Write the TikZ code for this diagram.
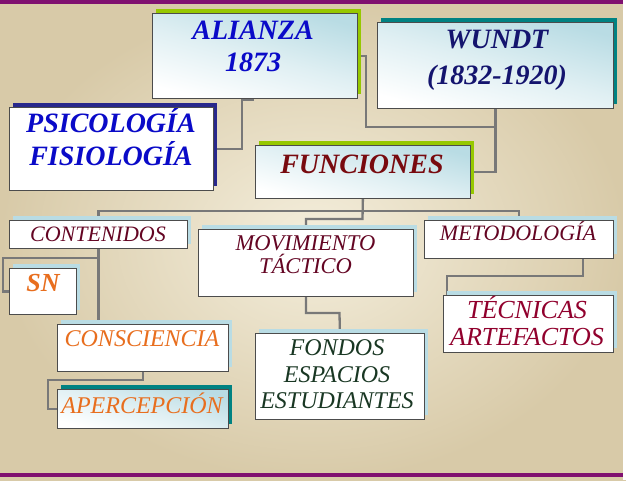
\documentclass[tikz,border=0pt]{standalone}
\usepackage{fontspec}
\setmainfont{Liberation Serif}
\usetikzlibrary{shadows,backgrounds}

\definecolor{bgdark}{RGB}{216,202,168}
\definecolor{bglight}{RGB}{244,238,220}
\definecolor{barpurple}{RGB}{128,16,112}
\definecolor{conngray}{RGB}{120,120,120}
\definecolor{limegreen}{RGB}{150,200,0}
\definecolor{tealsh}{RGB}{0,130,130}
\definecolor{navysh}{RGB}{40,40,140}
\definecolor{lightsh}{RGB}{185,220,228}
\definecolor{gradblue}{RGB}{185,220,228}
\definecolor{textblue}{RGB}{10,10,200}
\definecolor{textnavy}{RGB}{20,20,110}
\definecolor{redfun}{RGB}{120,10,15}
\definecolor{redsmall}{RGB}{100,5,35}
\definecolor{crimson}{RGB}{145,0,45}
\definecolor{orangetxt}{RGB}{232,110,30}
\definecolor{greentxt}{RGB}{25,55,35}

\tikzset{
  box/.style={draw=black!70, line width=0.8pt, fill=white, anchor=north west, inner sep=0pt},
  grad/.style={top color=gradblue, bottom color=white, middle color=gradblue!45!white, shading angle=-15},
  shad/.style={drop shadow={shadow xshift=4pt, shadow yshift=4pt, fill=#1, opacity=1}},
  conn/.style={draw=conngray, line width=2.3pt},
  txt/.style={align=center, inner sep=0pt}
}

\begin{document}
\begin{tikzpicture}[x=1pt,y=-1pt]
\useasboundingbox (0,0) rectangle (626,480);

\node[box, grad, shad=limegreen, minimum width=205pt, minimum height=85pt] (alianza) at (152,13) {};
\node[box, grad, shad=tealsh, minimum width=236pt, minimum height=86pt] (wundt) at (377,22) {};
\node[box, shad=navysh, minimum width=204pt, minimum height=83pt] (psico) at (9,107) {};
\node[box, grad, shad=limegreen, minimum width=215pt, minimum height=53pt] (funciones) at (255,145) {};
\node[box, shad=lightsh, minimum width=178pt, minimum height=28pt] (contenidos) at (9,220) {};
\node[box, shad=lightsh, minimum width=215pt, minimum height=67pt] (movimiento) at (198,229) {};
\node[box, shad=lightsh, minimum width=189pt, minimum height=38pt] (metodologia) at (424,220) {};
\node[box, shad=lightsh, minimum width=67pt, minimum height=46pt] (sn) at (9,268) {};
\node[box, shad=lightsh, minimum width=171pt, minimum height=47pt] (consciencia) at (57,324) {};
\node[box, grad, shad=tealsh, minimum width=171pt, minimum height=39pt] (apercepcion) at (57,389) {};
\node[box, shad=lightsh, minimum width=169pt, minimum height=86pt] (fondos) at (255,333) {};
\node[box, shad=lightsh, minimum width=170pt, minimum height=57pt] (tecnicas) at (443,295) {};

\node[txt, textblue, font=\bfseries\itshape\fontsize{28}{32}\selectfont] (alianzatxt) at (253,46) {ALIANZA\\1873};
\node[txt, textnavy, font=\bfseries\itshape\fontsize{28}{36}\selectfont] (wundttxt) at (497,60) {WUNDT\\(1832-1920)};
\node[txt, textblue, font=\bfseries\itshape\fontsize{28}{33}\selectfont] (psicotxt) at (111,137) {PSICOLOGÍA\\FISIOLOGÍA};
\node[txt, redfun, font=\bfseries\itshape\fontsize{28}{32}\selectfont] (funcionestxt) at (362,164) {FUNCIONES};
\node[txt, redsmall, font=\itshape\fontsize{22}{24}\selectfont] (contenidostxt) at (98,234) {CONTENIDOS};
\node[txt, redsmall, font=\itshape\fontsize{22.5}{23}\selectfont] (movimientotxt) at (305.5,254.5) {MOVIMIENTO\\TÁCTICO};
\node[txt, redsmall, font=\itshape\fontsize{22}{24}\selectfont] (metodologiatxt) at (518,231.5) {METODOLOGÍA};
\node[txt, orangetxt, font=\bfseries\itshape\fontsize{26}{28}\selectfont] (sntxt) at (43,283) {SN};
\node[txt, orangetxt, font=\itshape\fontsize{24}{26}\selectfont] (conscienciatxt) at (142,339) {CONSCIENCIA};
\node[txt, orangetxt, font=\itshape\fontsize{24}{26}\selectfont] (apercepciontxt) at (142,403) {APERCEPCIÓN};
\node[txt, greentxt, font=\itshape\fontsize{24}{26.5}\selectfont] (fondostxt) at (337,374.5) {FONDOS\\ESPACIOS\\ESTUDIANTES};
\node[txt, crimson, font=\itshape\fontsize{26}{27}\selectfont] (tecnicastxt) at (527,321) {TÉCNICAS\\ARTEFACTOS};

\fill[barpurple] (0,0) rectangle (623,4);
\fill[barpurple] (0,473) rectangle (623,477);
\fill[white] (623,0) rectangle (626,480);

\begin{scope}[on background layer]
  \shade[inner color=bglight, outer color=bgdark] (0,0) rectangle (626,480);
  \coordinate (ja) at (366,127);
  \coordinate (jb1) at (253,100);
  \coordinate (jb2) at (242,100);
  \coordinate (bus) at (362.5,211);
  \coordinate (jf) at (362.5,219);
  \coordinate (js) at (3,258);
  \coordinate (jc) at (48,380);
  \coordinate (jv) at (339.5,313);
  \coordinate (jt1) at (583,276);
  \coordinate (jt2) at (447,276);
  \draw[conn] (alianza.east) -| (ja) -| (wundt.south);
  \draw[conn] (wundt.south) |- (funciones.east);
  \draw[conn] (alianza.south -| jb1) -- (jb1) -- (jb2) |- (psico.east);
  \draw[conn] (contenidos.north) |- (bus) -| (metodologia.north);
  \draw[conn] (funciones.south) -- (jf) -| (movimiento.north);
  \draw[conn] (contenidos.south) -- (contenidos.south |- consciencia.north);
  \draw[conn] (contenidos.south |- js) -- (js) |- (sn.west);
  \draw[conn] (consciencia.south) |- (jc) |- (apercepcion.west);
  \draw[conn] (movimiento.south) |- (jv) -- (fondos.north);
  \draw[conn] (metodologia.south -| jt1) -- (jt1) -- (jt2) -- (jt2 |- tecnicas.north);
\end{scope}
\end{tikzpicture}
\end{document}
